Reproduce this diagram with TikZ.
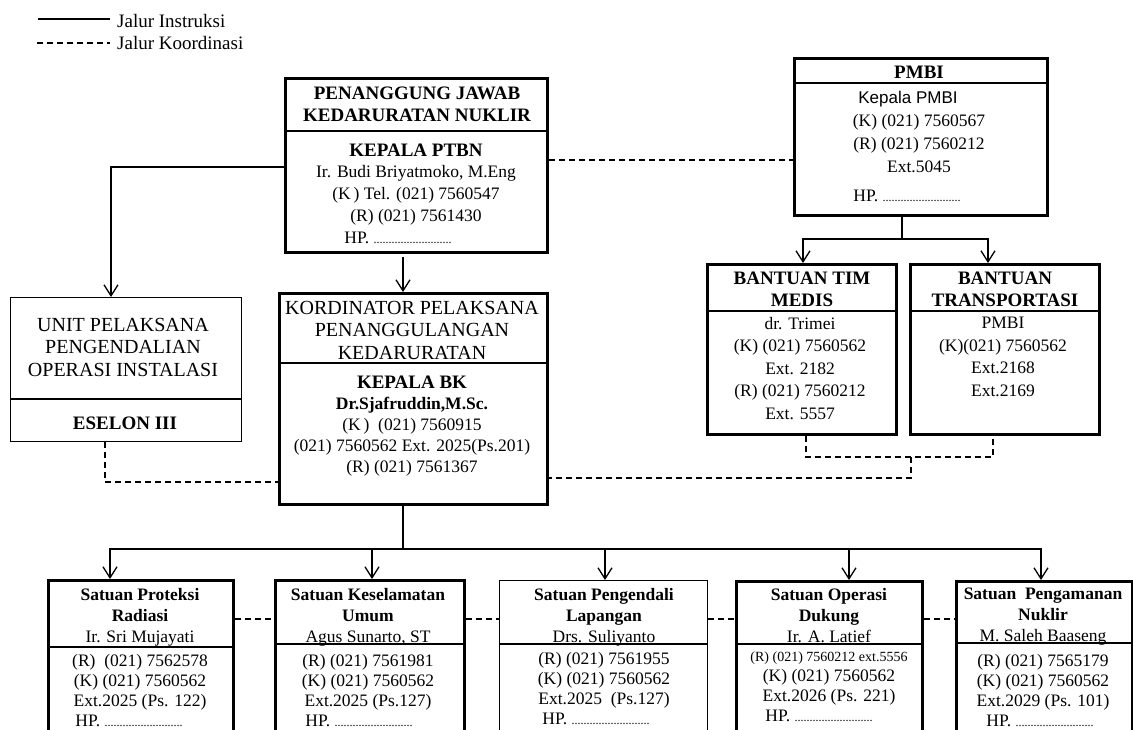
\documentclass[tikz,border=0pt]{standalone}
\usepackage{fontspec}
\setmainfont{Liberation Serif}
\newfontfamily\sansf{Liberation Sans}
\usetikzlibrary{arrows.meta}
\newcommand{\hpdots}{{\fontsize{12}{12}\selectfont ..........................}}

\begin{document}
\begin{tikzpicture}[x=1pt,y=-1pt,>={Straight Barb[length=11pt,width=14pt]},
  box/.style={draw,line width=1.4pt,anchor=north west,inner sep=0pt},
  thickbox/.style={box,line width=3pt},
  sep/.style={line width=1.4pt},
  instr/.style={draw,line width=1.3pt},
  coord/.style={draw,line width=1.3pt,dash pattern=on 6pt off 4pt},
  leg/.style={font=\fontsize{19}{22}\selectfont,anchor=west,inner sep=0pt},
  hd/.style={font=\bfseries\fontsize{19}{22.5}\selectfont,align=center,inner sep=0pt,anchor=north},
  capt/.style={font=\fontsize{20}{22.5}\selectfont,align=center,inner sep=0pt,anchor=north},
  sat/.style={font=\bfseries\fontsize{17.5}{21}\selectfont,align=center,inner sep=0pt,anchor=north},
  txt/.style={font=\fontsize{17.5}{#1}\selectfont,align=center,inner sep=0pt,anchor=north},
  txt/.default=20]

  \useasboundingbox (0,0) rectangle (1133,729);
  \clip (0,0) rectangle (1133,729);

  % legend
  \node[leg] (li) at (117,21) {Jalur Instruksi};
  \node[leg] (lk) at (117,43) {Jalur Koordinasi};
  \coordinate (l1) at (38,19);
  \coordinate (l2) at (37,43);
  \draw[instr,shorten >=7pt] (l1) -- (l1 -| li.west);
  \draw[coord,shorten >=7pt] (l2) -- (l2 -| lk.west);

  % boxes
  \node[thickbox,minimum width=262pt,minimum height=174pt] (pj) at (284,77) {};
  \node[thickbox,minimum width=253pt,minimum height=157pt] (pmbi) at (793,57) {};
  \node[thickbox,minimum width=189pt,minimum height=170pt] (medis) at (706,263) {};
  \node[thickbox,minimum width=189pt,minimum height=170pt] (trans) at (909,263) {};
  \node[box,minimum width=231pt,minimum height=144pt] (unit) at (10,297) {};
  \node[thickbox,minimum width=268pt,minimum height=211pt] (kord) at (278,292) {};
  \node[thickbox,minimum width=185pt,minimum height=180pt] (s1) at (47,579) {};
  \node[thickbox,minimum width=189pt,minimum height=180pt] (s2) at (274,579) {};
  \node[box,minimum width=208pt,minimum height=180pt] (s3) at (499,580) {};
  \node[thickbox,minimum width=186pt,minimum height=180pt] (s4) at (735,580) {};
  \node[thickbox,minimum width=176pt,minimum height=180pt] (s5) at (955,580) {};

  \foreach \b/\d in {pj/54,pmbi/26,medis/48,trans/48,unit/102,kord/71,s1/68,s2/65,s3/64,s4/64,s5/63}
    \draw[sep] ([yshift=-\d]\b.north west) -- ([yshift=-\d]\b.north east);

  % texts
  \node[hd] (pjh) at (417,86.5) {PENANGGUNG JAWAB\\KEDARURATAN NUKLIR};
  \node[txt=21.7] (pjb) at (416,143.5) {{\bfseries\fontsize{19}{21.7}\selectfont KEPALA PTBN}\\Ir. Budi Briyatmoko, M.Eng\\(K\,) Tel. (021) 7560547\\(R) (021) 7561430\hspace*{38pt}\\HP. \hpdots\hspace*{36pt}};
  \node[hd] (pmbih) at (919,65.5) {PMBI};
  \node[txt=23] (pmbib) at (919,91) {{\sansf\fontsize{17}{23}\selectfont Kepala PMBI}\hspace*{22pt}\\(K) (021) 7560567\\(R) (021) 7560212\\Ext.5045\\[6pt]HP. \hpdots\hspace*{24pt}};
  \node[hd] (medish) at (802,271.5) {BANTUAN TIM\\MEDIS};
  \node[txt=22.5] (medisb) at (800,317) {dr. Trimei\\(K) (021) 7560562\\Ext. 2182\\(R) (021) 7560212\\Ext. 5557};
  \node[hd] (transh) at (1005,271.5) {BANTUAN\\TRANSPORTASI};
  \node[txt=22.5] (transb) at (1003,317) {PMBI\\(K)(021) 7560562\\Ext.2168\\Ext.2169};
  \node[capt] (unith) at (123,318) {UNIT PELAKSANA\\PENGENDALIAN\\OPERASI INSTALASI};
  \node[hd] (unitb) at (125,416.5) {ESELON III};
  \node[capt] (kordh) at (412,301) {KORDINATOR PELAKSANA\\PENANGGULANGAN\\KEDARURATAN};
  \node[txt=21] (kordb) at (412,375.5) {{\bfseries\fontsize{19}{21}\selectfont KEPALA BK}\\{\bfseries Dr.Sjafruddin,M.Sc.}\\(K\,)\ \ (021) 7560915\hspace*{28pt}\\(021) 7560562 Ext. 2025(Ps.201)\\(R) (021) 7561367};
  \node[sat] (s1h) at (140,588) {Satuan Proteksi\\Radiasi\\{\mdseries Ir. Sri Mujayati}};
  \node[txt] (s1b) at (140,654) {(R)\ \ (021) 7562578\\(K) (021) 7560562\\Ext.2025 (Ps. 122)\\HP. \hpdots\hspace*{22pt}};
  \node[sat] (s2h) at (368,588) {Satuan Keselamatan\\Umum\\{\mdseries Agus Sunarto, ST}};
  \node[txt] (s2b) at (368,654) {(R) (021) 7561981\\(K) (021) 7560562\\Ext.2025 (Ps.127)\\HP. \hpdots\hspace*{18pt}};
  \node[sat] (s3h) at (604,588) {Satuan Pengendali\\Lapangan\\{\mdseries Drs. Suliyanto}};
  \node[txt] (s3b) at (604,652) {(R) (021) 7561955\\(K) (021) 7560562\\Ext.2025\ \ (Ps.127)\\HP. \hpdots\hspace*{16pt}};
  \node[sat] (s4h) at (829,588) {Satuan Operasi\\Dukung\\{\mdseries Ir. A. Latief}};
  \node[txt] (s4b) at (829,651.5) {{\fontsize{14}{20}\selectfont (R) (021) 7560212 ext.5556}\\(K) (021) 7560562\\Ext.2026 (Ps. 221)\\HP. \hpdots\hspace*{20pt}};
  \node[sat] (s5h) at (1043,588) {Satuan\ \ Pengamanan\\Nuklir\\{\mdseries M. Saleh Baaseng}};
  \node[txt] (s5b) at (1043,654) {(R) (021) 7565179\\(K) (021) 7560562\\Ext.2029 (Ps. 101)\\HP. \hpdots\hspace*{6pt}};

  % jalur instruksi
  \coordinate (ju) at (111,167);
  \draw[instr,->] (pj.west |- ju) -- (ju) -- (unit.north -| ju);
  \coordinate (jk) at (403,257);
  \draw[instr,->] (jk) -- (kord.north -| jk);
  \coordinate (jp) at (902,239);
  \coordinate (jm) at (803,239);
  \coordinate (jt) at (988,239);
  \draw[instr,->] (pmbi.south -| jp) -- (jp) -| (medis.north -| jm);
  \draw[instr,->] (jp) -| (trans.north -| jt);
  \coordinate (js) at (403,549);
  \draw[instr] (kord.south -| js) -- (js);
  \foreach \s/\x in {s1/110,s2/372,s3/605,s4/849,s5/1041}
    \coordinate (b\s) at (\x,549);
  \foreach \s in {s1,s2,s3,s4,s5}
    \draw[instr,->] (js) -| (\s.north -| b\s);

  % jalur koordinasi
  \coordinate (cp) at (670,160);
  \draw[coord] (pj.east |- cp) -- (pmbi.west |- cp);
  \coordinate (cm) at (806,457);
  \coordinate (ct) at (993,457);
  \coordinate (cx) at (911,478);
  \draw[coord] (medis.south -| cm) -- (cm) -- (ct) -- (trans.south -| ct);
  \draw[coord] (cx |- cm) -- (cx) -- (kord.east |- cx);
  \coordinate (cu) at (105,482);
  \draw[coord] (unit.south -| cu) -- (cu) -- (kord.west |- cu);
  \coordinate (cb) at (0,619);
  \foreach \a/\b in {s1/s2,s2/s3,s3/s4,s4/s5}
    \draw[coord] (\a.east |- cb) -- (\b.west |- cb);
\end{tikzpicture}
\end{document}
